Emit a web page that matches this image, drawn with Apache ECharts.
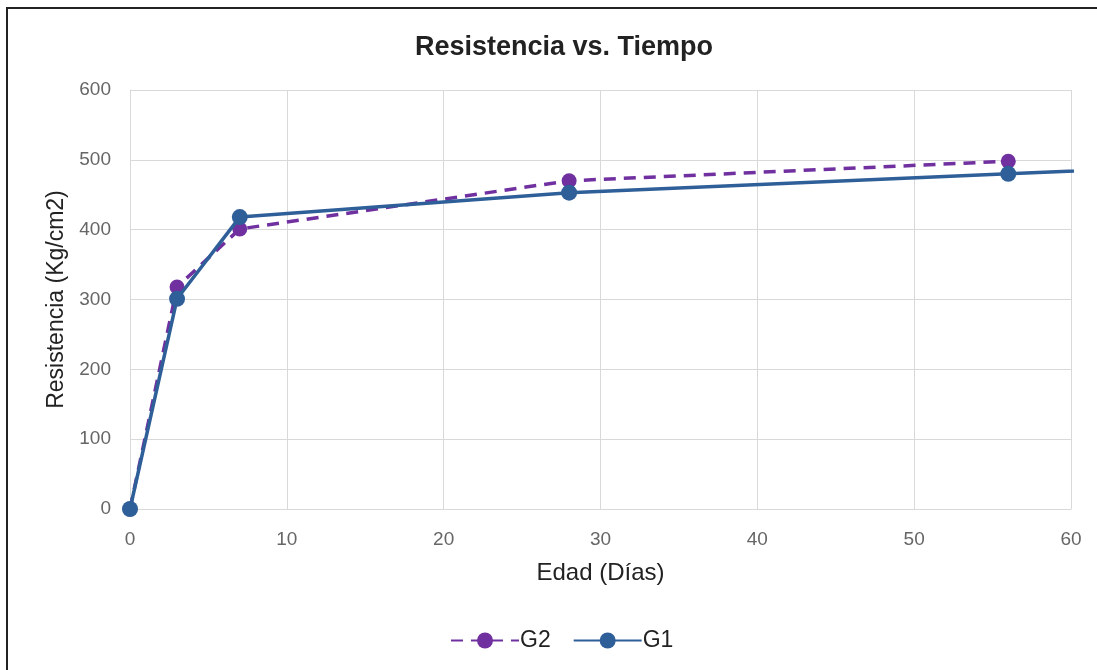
<!DOCTYPE html>
<html>
<head>
<meta charset="utf-8">
<script src="https://cdn.jsdelivr.net/npm/echarts@6/dist/echarts.min.js"></script>
<style>
html,body{margin:0;padding:0;background:#fff;}
#frame{position:absolute;left:6px;top:7px;width:1200px;height:800px;border:2px solid #222;box-sizing:border-box;}
#chart{position:absolute;left:0;top:0;width:1097px;height:670px;}
</style>
</head>
<body>
<div id="frame"></div>
<div id="chart"></div>
<script>
const days = [0, 3, 7, 28, 56, 90];
const g1 = [0, 301, 418, 453, 480, 513];
const g2Days = [0, 3, 7, 28, 56];
const g2 = [0, 318, 401, 470, 498];
const xTicks = [0, 10, 20, 30, 40, 50, 60];
const yTicks = [0, 100, 200, 300, 400, 500, 600];

const chart = echarts.init(document.getElementById('chart'), null, {renderer: 'canvas'});
const font = 'Liberation Sans, Arial, sans-serif';
chart.setOption({
  animation: false,
  backgroundColor: 'transparent',
  title: {
    text: 'Resistencia vs. Tiempo',
    left: 559, top: 29, textAlign: 'center',
    textStyle: {fontFamily: font, fontSize: 27, fontWeight: 'bold', color: '#222'}
  },
  grid: {left: 130, right: 26, top: 90, bottom: 161, show: false},
  legend: {
    data: ['G2', 'G1'],
    top: 624, left: 445,
    itemWidth: 68, itemHeight: 20, itemGap: 22,
    textStyle: {fontFamily: font, fontSize: 23, color: '#222', padding: [0, 0, 0, -4]}
  },
  xAxis: {
    type: 'value', min: 0, max: 60, interval: 10,
    name: 'Edad (Días)', nameLocation: 'middle', nameGap: 52,
    nameTextStyle: {fontFamily: font, fontSize: 24, color: '#222'},
    axisLine: {show: true, lineStyle: {color: '#d9d9d9', width: 1}},
    axisTick: {show: false},
    axisLabel: {fontFamily: font, fontSize: 19, color: '#666', margin: 21},
    splitLine: {show: true, lineStyle: {color: '#d9d9d9', width: 1}}
  },
  yAxis: {
    type: 'value', min: 0, max: 600, interval: 100,
    name: 'Resistencia (Kg/cm2)', nameLocation: 'middle', nameGap: 62,
    nameTextStyle: {fontFamily: font, fontSize: 23, color: '#222'},
    axisLine: {show: true, lineStyle: {color: '#d9d9d9', width: 1}},
    axisTick: {show: false},
    axisLabel: {fontFamily: font, fontSize: 19, color: '#666', margin: 19},
    splitLine: {show: true, lineStyle: {color: '#d9d9d9', width: 1}}
  },
  series: [
    {
      name: 'G2', type: 'line', clip: true,
      data: g2Days.map((d, i) => [d, g2[i]]),
      symbol: 'circle', symbolSize: 15,
      itemStyle: {color: '#7030a0'},
      lineStyle: {color: '#7030a0', width: 3.5, type: [12, 8]},
      z: 2
    },
    {
      name: 'G1', type: 'line', clip: true,
      data: days.map((d, i) => [d, g1[i]]),
      symbol: 'circle', symbolSize: 16,
      itemStyle: {color: '#2f5f98'},
      lineStyle: {color: '#2f5f98', width: 3.5},
      z: 3
    }
  ]
});
</script>
</body>
</html>
